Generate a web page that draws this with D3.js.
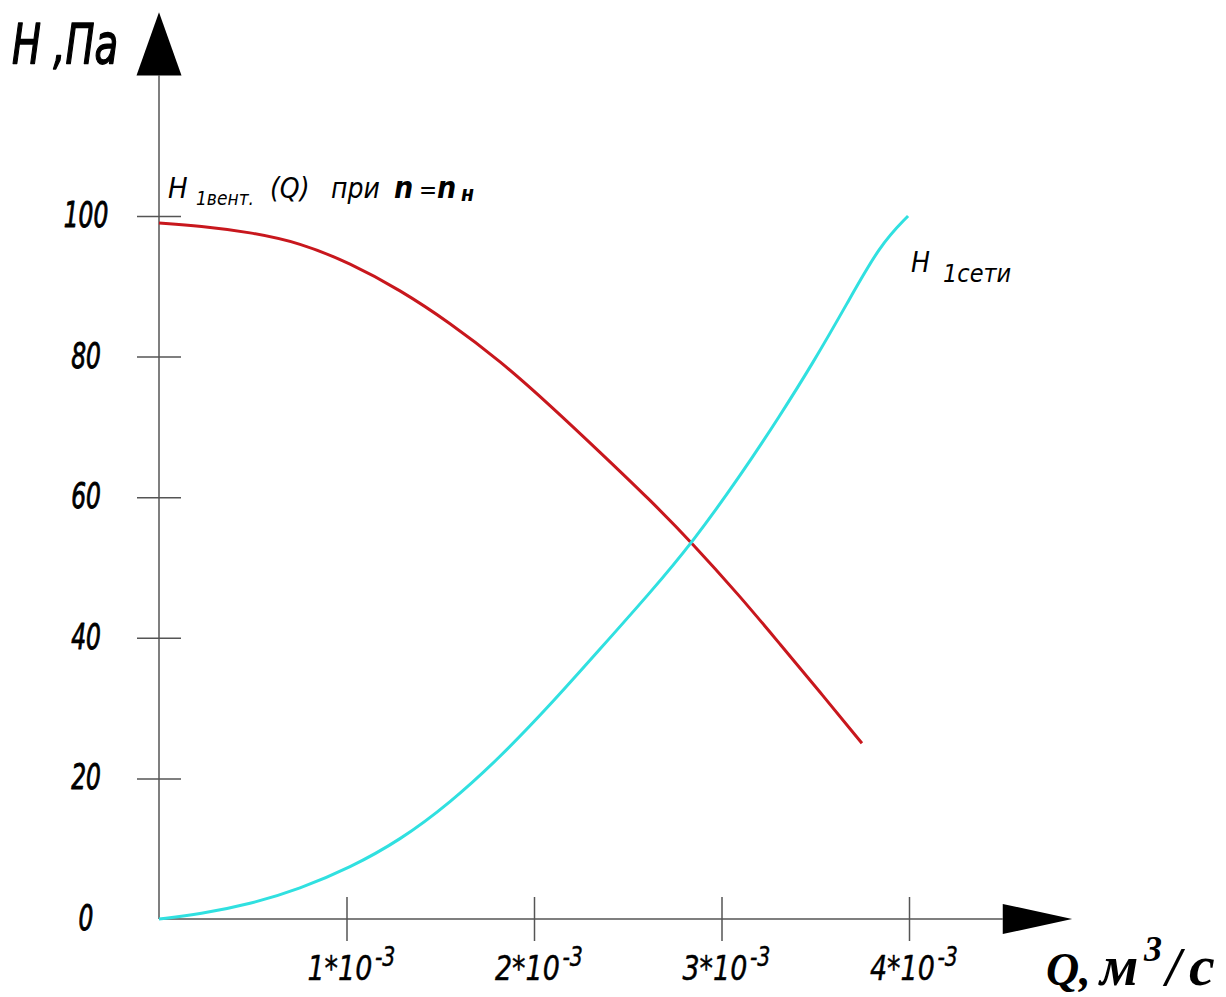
<!DOCTYPE html>
<html>
<head>
<meta charset="utf-8">
<script src="https://cdn.jsdelivr.net/npm/d3@7"></script>
<style>
  html, body { margin: 0; padding: 0; background: #fff; }
  svg { display: block; }
  .gost { font-family: "DejaVu Sans Condensed", "DejaVu Sans", sans-serif; font-style: italic; fill: #000; }
  .serif { font-family: "Liberation Serif", "DejaVu Serif", serif; font-style: italic; font-weight: bold; fill: #000; }
</style>
</head>
<body>
<svg id="chart" width="1226" height="997"></svg>
<script>
// Fan curve H(Q) at nominal speed: Q in 10⁻³ m³/s, H in Pa
const fanQ = [0, 0.219, 0.485, 0.752, 1.019, 1.285, 1.552, 1.819, 2.085, 2.352, 2.619, 2.843, 3.099, 3.312, 3.525, 3.749];
const fanH = [99.0, 98.6, 97.7, 96.2, 93.3, 89.5, 84.8, 79.4, 73.1, 66.4, 59.6, 53.5, 45.9, 39.1, 32.3, 25.0];

// Network characteristic
const netQ = [0, 0.219, 0.485, 0.752, 1.019, 1.285, 1.552, 1.819, 2.085, 2.352, 2.619, 2.843, 3.099, 3.312, 3.488, 3.669, 3.845, 3.995];
const netH = [0, 0.7, 2.1, 4.3, 7.3, 11.2, 16.5, 23.0, 30.4, 38.4, 46.4, 53.5, 63.0, 71.6, 79.1, 87.5, 95.9, 100.0];

const yTicks = [0, 20, 40, 60, 80, 100];
const xTicks = [1, 2, 3, 4];
const xTickMantissa = ["1*10", "2*10", "3*10", "4*10"];
const xTickExp = "-3";

const svg = d3.select("#chart");

const x = d3.scaleLinear().domain([0, 4]).range([159, 909]);
const y = d3.scaleLinear().domain([0, 100]).range([919, 216]);

const axisColor = "#555";

// Narrow slanted lettering: condensed italic squeezed horizontally,
// optionally thickened with a thin outline
function gostText(parent, px, py, size, sx, anchor, outline) {
  const t = parent.append("text")
    .attr("class", "gost")
    .attr("transform", `translate(${px},${py}) scale(${sx},1)`)
    .attr("text-anchor", anchor)
    .attr("font-size", size);
  if (outline) t.attr("stroke", "#000").attr("stroke-width", outline).attr("stroke-linejoin", "round");
  return t;
}

// Y axis: ticks crossing the axis line
const gy = svg.append("g")
  .attr("transform", `translate(${x(0)},0)`)
  .call(d3.axisLeft(y).tickValues(yTicks.slice(1)).tickSize(22).tickFormat(""));
gy.select(".domain").remove();
gy.selectAll(".tick line").attr("x1", -22).attr("x2", 22).attr("stroke", axisColor).attr("stroke-width", 1.5);

// X axis: ticks crossing the axis line
const gx = svg.append("g")
  .attr("transform", `translate(0,${y(0)})`)
  .call(d3.axisBottom(x).tickValues(xTicks).tickSize(22).tickFormat(""));
gx.select(".domain").remove();
gx.selectAll(".tick line").attr("y1", -22).attr("y2", 22).attr("stroke", axisColor).attr("stroke-width", 1.5);

// Axis lines and arrowheads
svg.append("line")
  .attr("x1", x(0)).attr("x2", x(0)).attr("y1", y(0)).attr("y2", y(120))
  .attr("stroke", axisColor).attr("stroke-width", 1.5);
svg.append("line")
  .attr("x1", x(0)).attr("x2", x(4.5)).attr("y1", y(0)).attr("y2", y(0))
  .attr("stroke", axisColor).attr("stroke-width", 1.5);

svg.append("path")
  .attr("d", `M${x(0)},${y(129)} L${x(0) + 22.5},${y(120)} L${x(0) - 22.5},${y(120)} Z`)
  .attr("fill", "#000");
svg.append("path")
  .attr("d", `M${x(4.87)},${y(0)} L${x(4.5)},${y(0) - 15} L${x(4.5)},${y(0) + 15} Z`)
  .attr("fill", "#000");

// Y tick labels
yTicks.forEach(v => {
  gostText(svg, 86, y(v) + 11, 36, 0.72, "middle", 0.9).text(v);
});

// X tick labels with superscript exponent
xTicks.forEach((v, i) => {
  const t = gostText(svg, x(v) - 39, 980, 34, 0.88, "start", 0.4);
  t.append("tspan").text(xTickMantissa[i]);
  t.append("tspan").attr("font-size", 26).attr("dy", -14).attr("dx", 3).text(xTickExp);
});

// Curves (smoothed B-spline through the read-off values)
const line = d3.line().x(d => x(d[0])).y(d => y(d[1])).curve(d3.curveBasis);

svg.append("path")
  .datum(fanQ.map((q, i) => [q, fanH[i]]))
  .attr("d", line)
  .attr("fill", "none")
  .attr("stroke", "#c8171d")
  .attr("stroke-width", 3);

svg.append("path")
  .datum(netQ.map((q, i) => [q, netH[i]]))
  .attr("d", line)
  .attr("fill", "none")
  .attr("stroke", "#30e0e0")
  .attr("stroke-width", 3);

// Axis titles
gostText(svg, 12, 63, 55, 0.78, "start", 1.4).text("H ,Па");

const xTitle = svg.append("text").attr("class", "serif").attr("y", 985);
xTitle.append("tspan").attr("x", 1046).attr("font-size", 46).text("Q,");
xTitle.append("tspan").attr("x", 1100).attr("font-size", 56).text("м");
xTitle.append("tspan").attr("x", 1144).attr("font-size", 36).attr("dy", -24).text("3");
xTitle.append("tspan").attr("x", 1166).attr("font-size", 54).attr("dy", 24).text("/");
xTitle.append("tspan").attr("x", 1189).attr("font-size", 58).text("с");

// Curve labels
const fanLabel = svg.append("text").attr("class", "gost").attr("y", 198).attr("font-size", 29);
fanLabel.append("tspan").attr("x", 168).text("H");
fanLabel.append("tspan").attr("x", 196).attr("font-size", 19).attr("dy", 7).text("1вент.");
fanLabel.append("tspan").attr("x", 270).attr("font-size", 28).attr("dy", -7).text("(Q)");
fanLabel.append("tspan").attr("x", 331).attr("font-size", 28).text("при");
fanLabel.append("tspan").attr("x", 394).attr("font-size", 30).attr("font-weight", "bold").text("n");
fanLabel.append("tspan").attr("x", 419).attr("font-size", 24).text("=");
fanLabel.append("tspan").attr("x", 437).attr("font-size", 30).attr("font-weight", "bold").text("n");
fanLabel.append("tspan").attr("x", 461).attr("font-size", 21).attr("font-weight", "bold").attr("dy", 3).text("н");

const netLabel = svg.append("text").attr("class", "gost").attr("y", 272).attr("font-size", 28);
netLabel.append("tspan").attr("x", 911).text("H");
netLabel.append("tspan").attr("x", 943).attr("font-size", 25).attr("dy", 10).text("1сети");
</script>
</body>
</html>
